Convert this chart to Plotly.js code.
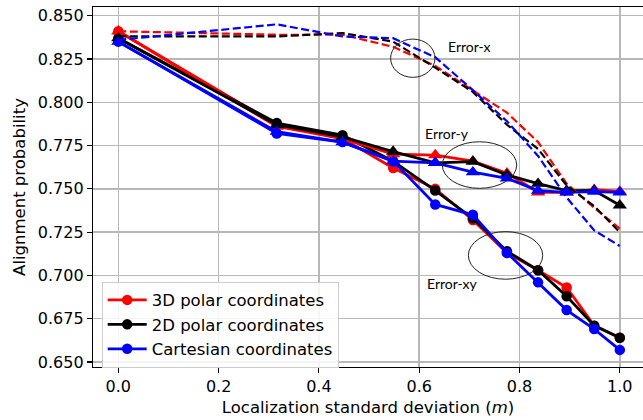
<!DOCTYPE html>
<html>
<head>
<meta charset="utf-8">
<script src="https://cdn.plot.ly/plotly-3.0.1.min.js"></script>
<style>html,body{margin:0;padding:0;background:#fff;}#chart{width:643px;height:420px;}</style>
</head>
<body>
<div id="chart"></div>
<script>
// Localization standard deviation (m)
const sigma = [0, 0.316, 0.447, 0.548, 0.632, 0.707, 0.775, 0.837, 0.894, 0.949, 1.0];

// Error-xy (solid, circles)
const xy3D   = [0.841, 0.787, 0.779, 0.762, 0.750, 0.732, 0.713, 0.703, 0.693, 0.671, 0.664];
const xy2D   = [0.837, 0.788, 0.781, 0.766, 0.749, 0.733, 0.714, 0.703, 0.688, 0.671, 0.664];
const xyCart = [0.835, 0.782, 0.777, 0.766, 0.741, 0.735, 0.713, 0.696, 0.680, 0.669, 0.657];

// Error-y (solid, triangles)
const y3D   = [0.841, 0.786, 0.779, 0.770, 0.7695, 0.766, 0.759, 0.748, 0.748, 0.7495, 0.7485];
const y2D   = [0.837, 0.787, 0.780, 0.7715, 0.765, 0.7657, 0.758, 0.753, 0.749, 0.749, 0.7405];
const yCart = [0.835, 0.783, 0.777, 0.766, 0.765, 0.7596, 0.756, 0.749, 0.748, 0.7484, 0.748];

// Error-x (dashed, no markers)
const x3D   = [0.841, 0.839, 0.839, 0.832, 0.821, 0.807, 0.794, 0.777, 0.753, 0.739, 0.727];
const x2D   = [0.838, 0.838, 0.840, 0.835, 0.820, 0.806, 0.787, 0.773, 0.752, 0.740, 0.725];
const xCart = [0.836, 0.845, 0.838, 0.837, 0.826, 0.807, 0.789, 0.769, 0.745, 0.726, 0.717];

const seriesNames = ['3D polar coordinates', '2D polar coordinates', 'Cartesian coordinates'];
const colors = ['#ff0000', '#000000', '#0000ff'];

const traces = [];
[xy3D, xy2D, xyCart].forEach((v, i) => traces.push({
  x: sigma, y: v, type: 'scatter', mode: 'lines+markers', name: seriesNames[i],
  line: {color: colors[i], width: 2.8}, marker: {color: colors[i], size: 10.5, symbol: 'circle'}
}));
[y3D, y2D, yCart].forEach((v, i) => traces.push({
  x: sigma, y: v, type: 'scatter', mode: 'lines+markers', showlegend: false,
  line: {color: colors[i], width: 2.8}, marker: {color: colors[i], size: 12.5, symbol: 'triangle-up'}
}));
[x3D, x2D, xCart].forEach((v, i) => traces.push({
  x: sigma, y: v, type: 'scatter', mode: 'lines', showlegend: false,
  line: {color: colors[i], width: 2.2, dash: '8px,3.5px'}
}));

const pxPerX = 501.5, x0px = 118.3, leftPx = 93, plotW = 550;
const xmin = -(x0px - leftPx) / pxPerX;
const xmax = xmin + plotW / pxPerX;

const ellipse = (x0, x1, y0, y1) => ({type: 'circle', xref: 'x', yref: 'y', x0, x1, y0, y1,
  line: {color: '#222', width: 1}, fillcolor: 'rgba(0,0,0,0)'});
const label = (text, x, y) => ({text, x, y, xref: 'x', yref: 'y', showarrow: false,
  font: {family: 'Lato, sans-serif', size: 14, color: '#000'}});

const FS = 16.5, TFS = 16;
const layout = {
  width: 643, height: 420,
  margin: {l: 93, r: 0, t: 7, b: 53},
  paper_bgcolor: '#fff', plot_bgcolor: '#fff',
  font: {family: 'DejaVu Sans, sans-serif', size: TFS, color: '#000'},
  showlegend: true,
  legend: {x: 0.0158, y: 0.237, xanchor: 'left', yanchor: 'top',
    bgcolor: 'rgba(255,255,255,0.85)', bordercolor: '#cccccc', borderwidth: 1,
    font: {family: 'DejaVu Sans, sans-serif', size: FS, color: '#000'},
    itemwidth: 39, traceorder: 'normal'},
  xaxis: {range: [xmin, xmax], tickvals: [0, 0.2, 0.4, 0.6, 0.8, 1.0],
    ticktext: ['0.0', '0.2', '0.4', '0.6', '0.8', '1.0'],
    tickfont: {family: 'DejaVu Sans, sans-serif', size: TFS},
    showgrid: true, gridcolor: '#b8b8b8', gridwidth: 1.5, zeroline: false,
    showline: true, linecolor: '#000', linewidth: 1.2, mirror: true,
    ticks: 'outside', ticklen: 5, tickcolor: '#000', tickwidth: 1.2,
    title: {text: 'Localization standard deviation (<i>m</i>)', standoff: 6,
      font: {family: 'DejaVu Sans, sans-serif', size: FS}}},
  yaxis: {range: [0.64711, 0.85502], tickvals: [0.65, 0.675, 0.7, 0.725, 0.75, 0.775, 0.8, 0.825, 0.85],
    ticktext: ['0.650', '0.675', '0.700', '0.725', '0.750', '0.775', '0.800', '0.825', '0.850'],
    tickfont: {family: 'DejaVu Sans, sans-serif', size: TFS},
    showgrid: true, gridcolor: '#b8b8b8', gridwidth: 1.5, zeroline: false,
    showline: true, linecolor: '#000', linewidth: 1.2,
    ticks: 'outside', ticklen: 5, tickcolor: '#000', tickwidth: 1.2,
    title: {text: 'Alignment probability', standoff: 8,
      font: {family: 'DejaVu Sans, sans-serif', size: FS}}},
  shapes: [
    ellipse(0.543, 0.6315, 0.8144, 0.8365),
    ellipse(0.646, 0.7944, 0.7503, 0.7772),
    ellipse(0.698, 0.8463, 0.6978, 0.7253)
  ],
  annotations: [
    label('Error-x', 0.7002, 0.8321),
    label('Error-y', 0.6564, 0.7817),
    label('Error-xy', 0.6644, 0.6955)
  ]
};

Plotly.newPlot('chart', traces, layout, {displayModeBar: false, staticPlot: true});
</script>
</body>
</html>
